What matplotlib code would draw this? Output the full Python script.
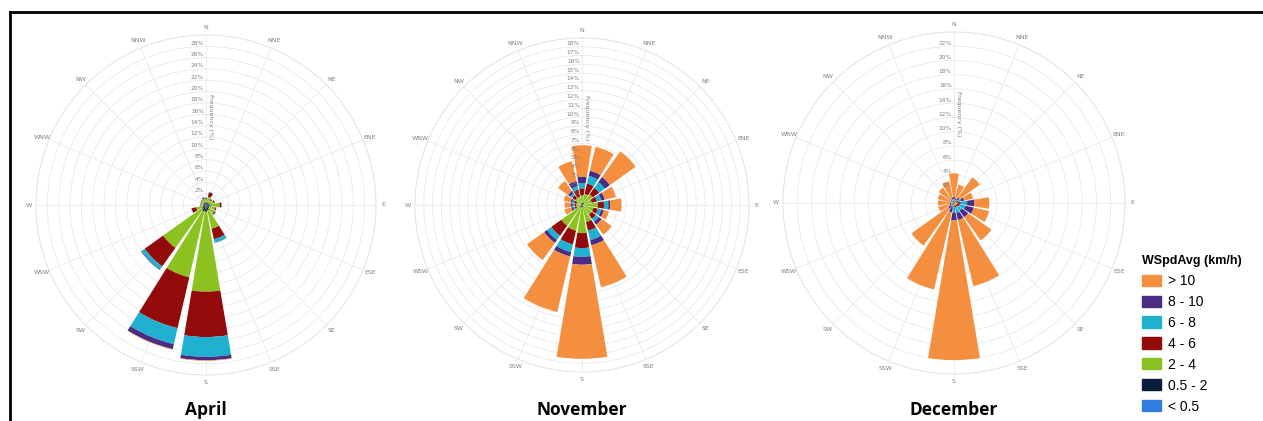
import numpy as np
import matplotlib.pyplot as plt
from matplotlib.patches import Patch
from matplotlib.lines import Line2D

W, H = 1263, 421

DIRECTIONS = ['N', 'NNE', 'NE', 'ENE', 'E', 'ESE', 'SE', 'SSE',
              'S', 'SSW', 'SW', 'WSW', 'W', 'WNW', 'NW', 'NNW']
SPEED_BINS = ['< 0.5', '0.5 - 2', '2 - 4', '4 - 6', '6 - 8', '8 - 10', '> 10']
COLORS = ['#2f80de', '#0d1e3a', '#8cc220', '#930a0a', '#20b0d0', '#4a2c84', '#f48f3f']

# frequency (%) per direction, one list per speed bin
april_lt05 = [0.1, 0.1, 0.1, 0.1, 0.1, 0.1, 0.1, 0.1, 0.1, 0.1, 0.1, 0.1, 0.1, 0.1, 0.1, 0.1]
april_05_2 = [0.4, 0.4, 0.4, 0.5, 0.7, 0.6, 0.6, 0.9, 1.1, 1.1, 0.8, 0.5, 0.4, 0.4, 0.4, 0.4]
april_2_4 = [0.5, 1.0, 0.6, 0.8, 1.6, 1.0, 1.2, 3.3, 14.1, 11.9, 8.4, 1.2, 0.4, 0.4, 0.5, 0.6]
april_4_6 = [0.2, 0.8, 0.2, 0.2, 0.3, 0.2, 0.2, 1.9, 8.0, 9.2, 4.0, 0.8, 0.1, 0.1, 0.1, 0.2]
april_6_8 = [0.1, 0.1, 0.1, 0.0, 0.1, 0.0, 0.1, 0.6, 3.5, 2.9, 0.7, 0.1, 0.0, 0.0, 0.05, 0.1]
april_8_10 = [0.0, 0.0, 0.0, 0.0, 0.0, 0.0, 0.0, 0.05, 0.6, 0.9, 0.1, 0.0, 0.0, 0.0, 0.0, 0.05]
april_gt10 = [0.0, 0.0, 0.0, 0.0, 0.0, 0.0, 0.0, 0.0, 0.1, 0.1, 0.0, 0.0, 0.0, 0.0, 0.0, 0.0]

nov_lt05 = [0.1, 0.1, 0.1, 0.05, 0.05, 0.05, 0.05, 0.1, 0.1, 0.1, 0.1, 0.05, 0.05, 0.05, 0.05, 0.05]
nov_05_2 = [0.2, 0.2, 0.2, 0.1, 0.15, 0.1, 0.1, 0.2, 0.2, 0.2, 0.2, 0.1, 0.1, 0.1, 0.1, 0.15]
nov_2_4 = [0.8, 1.0, 1.2, 1.0, 1.6, 1.2, 1.2, 1.7, 2.9, 2.7, 2.6, 0.5, 0.5, 0.5, 0.8, 0.8]
nov_4_6 = [0.8, 1.2, 0.9, 0.6, 0.7, 0.5, 0.6, 1.0, 1.7, 1.6, 1.4, 0.2, 0.2, 0.3, 0.4, 0.8]
nov_6_8 = [0.6, 0.9, 0.8, 0.5, 0.5, 0.4, 0.4, 1.1, 1.0, 0.9, 0.6, 0.2, 0.2, 0.2, 0.3, 0.4]
nov_8_10 = [0.7, 0.6, 0.7, 0.4, 0.2, 0.3, 0.4, 0.6, 0.9, 0.5, 0.4, 0.2, 0.2, 0.2, 0.3, 0.6]
nov_gt10 = [3.6, 2.8, 3.6, 1.3, 1.3, 0.6, 1.4, 4.9, 10.7, 6.5, 2.4, 0.8, 0.7, 0.8, 1.4, 2.3]

dec_lt05 = [0.05, 0.05, 0.05, 0.05, 0.05, 0.05, 0.05, 0.05, 0.05, 0.05, 0.05, 0.05, 0.05, 0.05, 0.05, 0.05]
dec_05_2 = [0.1, 0.1, 0.1, 0.1, 0.1, 0.1, 0.1, 0.1, 0.1, 0.1, 0.1, 0.1, 0.1, 0.1, 0.1, 0.1]
dec_2_4 = [0.1, 0.1, 0.1, 0.2, 0.3, 0.3, 0.2, 0.2, 0.2, 0.1, 0.1, 0.1, 0.1, 0.1, 0.1, 0.1]
dec_4_6 = [0.1, 0.1, 0.2, 0.3, 0.5, 0.4, 0.3, 0.3, 0.3, 0.1, 0.1, 0.1, 0.1, 0.1, 0.1, 0.1]
dec_6_8 = [0.2, 0.1, 0.2, 0.4, 0.9, 0.8, 0.7, 0.8, 0.7, 0.3, 0.2, 0.1, 0.1, 0.1, 0.1, 0.2]
dec_8_10 = [0.3, 0.2, 0.3, 0.4, 1.0, 1.2, 1.1, 1.0, 1.1, 0.7, 0.4, 0.2, 0.1, 0.1, 0.1, 0.2]
dec_gt10 = [3.3, 2.0, 3.5, 1.3, 2.1, 2.2, 4.0, 9.5, 19.6, 11.1, 6.4, 1.6, 1.7, 1.8, 2.1, 2.4]


def rose(fig, cx, cy, radius, rmax, step, stacks, title):
    """Draw one stacked wind rose centred at pixel (cx, cy)."""
    rect = [(cx - radius) / W, (H - cy - radius) / H, 2 * radius / W, 2 * radius / H]
    ax = fig.add_axes(rect, projection='polar')
    ax.set_theta_zero_location('N')
    ax.set_theta_direction(-1)
    ax.set_axisbelow(True)

    theta = np.deg2rad(np.arange(len(DIRECTIONS)) * 22.5)
    bottom = np.zeros(len(DIRECTIONS))
    for values, color in zip(stacks, COLORS):
        values = np.asarray(values)
        ax.bar(theta, values, width=np.deg2rad(19), bottom=bottom,
               color=color, edgecolor='none', zorder=3)
        bottom += values

    ticks = np.arange(step, rmax, step)
    ax.set_ylim(0, rmax)
    ax.set_yticks(ticks)
    ax.set_yticklabels([])
    ax.set_xticks(theta)
    ax.set_xticklabels(DIRECTIONS, fontsize=4.5, color='#808080')
    ax.tick_params(axis='x', pad=-5)
    ax.grid(color='#e6e9f0', linewidth=0.6)
    ax.spines['polar'].set_color('#dde1e8')
    ax.spines['polar'].set_linewidth(0.7)

    for t in ticks:
        ax.annotate(f'{t:g}%', xy=(0, t), xytext=(-1.5, 2.2), textcoords='offset points',
                    ha='right', va='center', fontsize=4.2, color='#808080', zorder=4)
    ax.annotate('Frequency (%)', xy=(0, rmax * 0.52), xytext=(1.5, 0),
                textcoords='offset points', ha='left', va='center',
                rotation=-90, fontsize=4.5, color='#808080', zorder=4)

    fig.text(cx / W, 1 - 410 / H, title, ha='center', va='center',
             fontsize=12.5, fontweight='bold', family='Open Sans')


def main():
    fig = plt.figure(figsize=(W / 100, H / 100), dpi=100)

    rose(fig, 206, 205, 170, 30, 2,
         [april_lt05, april_05_2, april_2_4, april_4_6, april_6_8, april_8_10, april_gt10],
         'April')
    rose(fig, 582, 205, 167, 19, 1,
         [nov_lt05, nov_05_2, nov_2_4, nov_4_6, nov_6_8, nov_8_10, nov_gt10],
         'November')
    rose(fig, 954, 203, 171, 24, 2,
         [dec_lt05, dec_05_2, dec_2_4, dec_4_6, dec_6_8, dec_8_10, dec_gt10],
         'December')

    # legend, fastest class on top
    handles = [Patch(color=c, label=l) for c, l in zip(COLORS[::-1], SPEED_BINS[::-1])]
    fig.legend(handles=handles, title='WSpdAvg (km/h)', loc='upper left',
               bbox_to_anchor=(1142 / W, 1 - 255 / H), frameon=False,
               prop={'family': 'Liberation Sans', 'size': 10},
               title_fontproperties={'family': 'Liberation Sans', 'size': 9, 'weight': 'bold'},
               alignment='left', handlelength=1.4, handleheight=0.85,
               handletextpad=0.45, labelspacing=0.5, borderpad=0, borderaxespad=0)

    # border along the top and left edges
    y_top = 1 - 12 / H
    x_left = 10 / W
    fig.add_artist(Line2D([x_left, 1], [y_top, y_top], color='black', linewidth=2))
    fig.add_artist(Line2D([x_left, x_left], [0, y_top], color='black', linewidth=2))

    fig.savefig('out.png', dpi=100)


if __name__ == '__main__':
    main()
